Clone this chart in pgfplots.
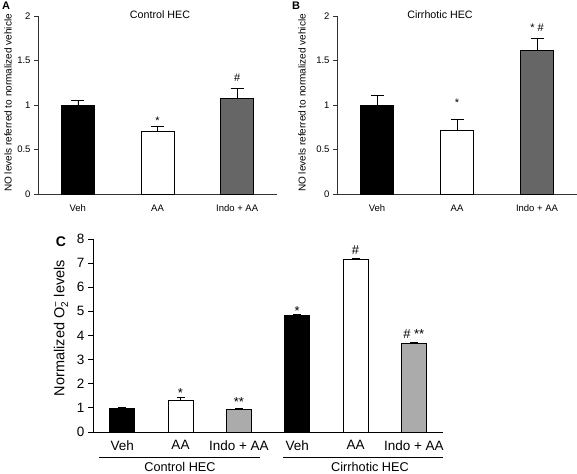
\documentclass[border=0pt]{standalone}
\usepackage{fontspec}
\setmainfont{Liberation Sans}
\usepackage{pgfplots}
\pgfplotsset{compat=1.18}
\tikzset{
  ann/.style={anchor=base, inner sep=0pt, font=\fontsize{11}{12}\selectfont},
  annc/.style={anchor=base, inner sep=0pt, font=\fontsize{13}{14}\selectfont},
}
\begin{document}
\begin{tikzpicture}[x=1pt,y=1pt]
\useasboundingbox (0,0) rectangle (577,473);
\pgfplotsset{
  nobar/.style={bar shift=0pt, draw=black, line width=0.6pt,
    /pgfplots/error bars/y dir=plus, /pgfplots/error bars/y explicit,
    /pgfplots/error bars/error bar style={line width=0.6pt, black},
    /pgfplots/error bars/error mark options={rotate=90, mark size=#1, line width=0.6pt, black}},
  small/.style={
    scale only axis, anchor=south west, width=239pt, height=178pt,
    xmin=-0.5, xmax=2.5, ymin=0, ymax=2, ybar, bar width=33pt,
    axis x line=bottom, axis y line=left,
    axis line style={-, black!80, line width=0.6pt},
    xtick={0,1,2}, xticklabels={Veh,AA,Indo + AA}, xtick style={draw=none},
    ytick={0,0.5,1,1.5,2}, tick align=outside,
    ytick style={black!80, line width=0.6pt}, major tick length=4pt,
    tick label style={font=\fontsize{9.5}{11}\selectfont},
    /pgf/number format/assume math mode=true,
    xticklabel style={yshift=-3pt},
    clip=false},
}
% Panel A
\begin{axis}[small, at={(38pt,279pt)}]
\addplot[nobar=6.5pt, fill=black] coordinates {(0,1.00) +- (0,0.05)};
\addplot[nobar=6.5pt, fill=white] coordinates {(1,0.71) +- (0,0.05)};
\addplot[nobar=6.5pt, fill=black!60] coordinates {(2,1.08) +- (0,0.11)};
\node[ann] at (axis cs:1,0.78) {*};
\node[ann] at (axis cs:2,1.26) {\#};
\end{axis}
% Panel B
\begin{axis}[small, at={(337pt,279pt)}, width=240pt]
\addplot[nobar=6.5pt, fill=black] coordinates {(0,1.00) +- (0,0.11)};
\addplot[nobar=6.5pt, fill=white] coordinates {(1,0.72) +- (0,0.12)};
\addplot[nobar=6.5pt, fill=black!60] coordinates {(2,1.61) +- (0,0.14)};
\node[ann] at (axis cs:1,0.98) {*};
\node[ann] at (axis cs:2,1.83) {* \#};
\end{axis}
% Panel C
\begin{axis}[scale only axis, anchor=south west, at={(93pt,41pt)},
  width=350pt, height=193pt,
  xmin=-0.5, xmax=5.5, ymin=0, ymax=8, ybar, bar width=25pt,
  axis x line=bottom, axis y line=left,
  axis line style={-, black, line width=0.8pt},
  xtick={0,1,2,3,4,5}, xticklabels={Veh,AA,Indo + AA,Veh,AA,Indo + AA},
  xtick style={draw=none},
  ytick={0,1,2,3,4,5,6,7,8}, tick align=outside,
  ytick style={black, line width=0.8pt}, major tick length=5pt,
  tick label style={font=\fontsize{13.5}{15}\selectfont},
  /pgf/number format/assume math mode=true,
  clip=false]
\addplot[nobar=4pt, fill=black] coordinates {(0,1.00) +- (0,0.03)};
\addplot[nobar=4pt, fill=white] coordinates {(1,1.33) +- (0,0.11)};
\addplot[nobar=4pt, fill=black!33] coordinates {(2,0.94) +- (0,0.03)};
\addplot[nobar=4pt, fill=black] coordinates {(3,4.83) +- (0,0.04)};
\addplot[nobar=4pt, fill=white] coordinates {(4,7.16) +- (0,0.06)};
\addplot[nobar=4pt, fill=black!33] coordinates {(5,3.68) +- (0,0.03)};
\node[annc] at (axis cs:1,1.42) {*};
\node[annc] at (axis cs:2,1.04) {**};
\node[annc] at (axis cs:3,4.82) {*};
\node[annc] at (axis cs:4,7.34) {\#};
\node[annc] at (axis cs:5,3.86) {\# **};
\end{axis}
% labels
\node[font=\bfseries\fontsize{11}{12}\selectfont] at (6,467) {A};
\node[font=\bfseries\fontsize{11}{12}\selectfont] at (296,467) {B};
\node[font=\bfseries\fontsize{14}{15}\selectfont] at (61,231) {C};
\node[font=\fontsize{10.7}{12}\selectfont] at (160,458) {Control HEC};
\node[font=\fontsize{10.7}{12}\selectfont] at (440,458) {Cirrhotic HEC};
\node[rotate=90, font=\fontsize{10}{11}\selectfont] at (8,370) {NO levels referred to normalized vehicle};
\node[rotate=90, font=\fontsize{10}{11}\selectfont] at (302,370) {NO levels referred to normalized vehicle};
\node[rotate=90, font=\fontsize{14.5}{16}\selectfont] at (61,145) {Normalized O$_{\mbox{\fontsize{10}{10}\selectfont 2}}^{\mbox{\fontsize{10}{10}\selectfont −}}$ levels};
\draw[line width=0.8pt] (99,16) -- (260,16);
\draw[line width=0.8pt] (283,16) -- (443,16);
\node[font=\fontsize{12.7}{14}\selectfont, anchor=base] at (180,1.5) {Control HEC};
\node[font=\fontsize{12.7}{14}\selectfont, anchor=base] at (370,1.5) {Cirrhotic HEC};
\end{tikzpicture}
\end{document}
